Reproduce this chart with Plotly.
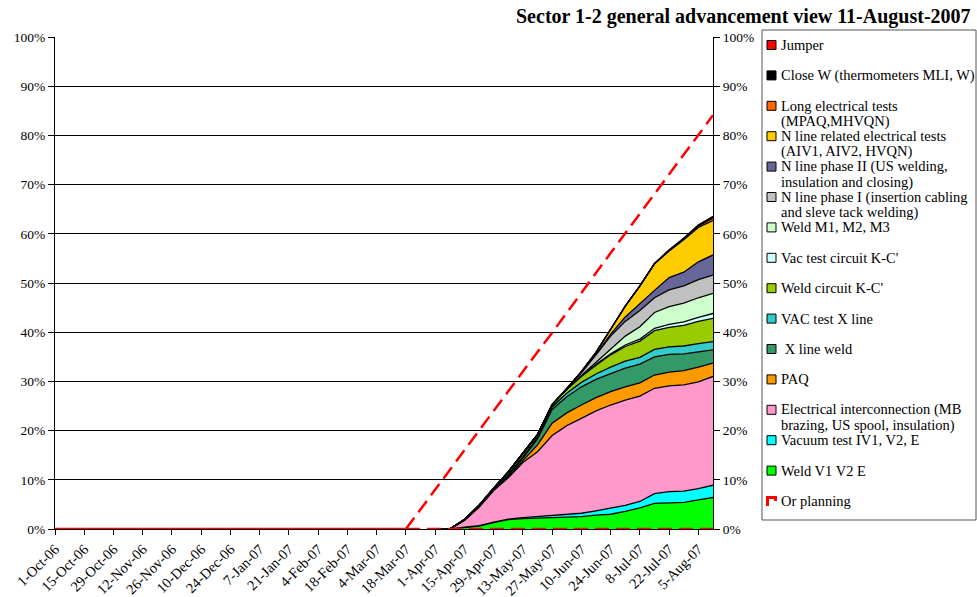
import plotly.graph_objects as go

# ---------------- data ----------------
week_dates = ['2007-04-01', '2007-04-08', '2007-04-15', '2007-04-22', '2007-04-29',
              '2007-05-06', '2007-05-13', '2007-05-20', '2007-05-27', '2007-06-03',
              '2007-06-10', '2007-06-17', '2007-06-24', '2007-07-01', '2007-07-08',
              '2007-07-15', '2007-07-22', '2007-07-29', '2007-08-05', '2007-08-12']

weld_v1v2e = [0, 0, 0.3, 0.6, 1.3, 1.9, 2.1, 2.2, 2.3, 2.4, 2.5, 2.8, 3.0, 3.6, 4.3, 5.2, 5.3, 5.4, 5.9, 6.4]
vacuum_test = [0, 0, 0.1, 0.1, 0.1, 0.1, 0.2, 0.3, 0.4, 0.5, 0.7, 0.9, 1.2, 1.2, 1.3, 2.0, 2.3, 2.3, 2.3, 2.5]
elec_interconnection = [0, 0, 1.4, 3.7, 6.4, 8.4, 11.2, 13.2, 16.3, 18.1, 19.3, 20.3, 21.0, 21.4, 21.4, 21.4, 21.5, 21.6, 21.7, 22.1]
paq = [0, 0, 0, 0.1, 0.1, 0.2, 0.4, 1.4, 2.5, 2.6, 2.7, 2.7, 2.7, 2.7, 2.7, 2.7, 2.8, 2.9, 3.0, 2.7]
x_line_weld = [0, 0, 0, 0.1, 0.1, 0.3, 0.5, 1.2, 2.8, 3.3, 3.7, 3.7, 3.7, 3.8, 3.8, 3.7, 3.6, 3.4, 3.1, 2.7]
vac_test_x_line = [0, 0, 0, 0, 0.1, 0.2, 0.3, 0.3, 0.5, 0.7, 0.9, 1.1, 1.3, 1.4, 1.4, 1.5, 1.5, 1.6, 1.7, 1.7]
weld_circuit_kc = [0, 0, 0.1, 0.2, 0.2, 0.5, 0.7, 0.6, 0.5, 0.8, 1.2, 1.8, 2.5, 3.0, 3.3, 3.8, 4.0, 4.2, 4.5, 4.7]
vac_test_circuit_kc = [0, 0, 0, 0, 0, 0, 0, 0, 0, 0, 0.1, 0.2, 0.2, 0.3, 0.4, 0.5, 0.6, 0.7, 0.8, 1.0]
weld_m123 = [0, 0, 0, 0, 0, 0, 0, 0, 0, 0, 0.1, 0.4, 1.0, 1.8, 2.5, 3.2, 3.6, 3.8, 4.0, 4.1]
n_line_phase1 = [0, 0, 0, 0, 0, 0, 0, 0, 0, 0.1, 0.6, 1.5, 2.6, 3.0, 3.3, 3.0, 3.4, 3.5, 3.7, 3.7]
n_line_phase2 = [0, 0, 0, 0, 0, 0, 0, 0, 0, 0, 0, 0.1, 0.4, 0.9, 1.5, 1.5, 2.5, 2.8, 3.6, 4.1]
n_line_elec = [0, 0, 0, 0, 0, 0, 0, 0, 0, 0, 0.2, 0.4, 1.0, 2.2, 3.5, 5.4, 5.4, 6.6, 7.0, 7.0]
long_elec = [0, 0, 0, 0, 0, 0, 0, 0, 0, 0, 0, 0, 0, 0, 0, 0, 0.1, 0.2, 0.3, 0.5]
close_w = [0, 0, 0, 0, 0, 0, 0, 0, 0, 0, 0, 0, 0, 0, 0, 0.1, 0.1, 0.1, 0.2, 0.3]
jumper = [0, 0, 0, 0, 0, 0, 0, 0, 0, 0, 0, 0, 0, 0, 0, 0, 0, 0, 0, 0]

planning_dates = ['2006-10-01', '2007-03-18', '2007-03-25'] + week_dates
planning = [0, 0, 4.0, 8.0, 12.1, 16.1, 20.1, 24.1, 28.2, 32.2, 36.0, 39.9, 44.0,
            48.0, 52.0, 56.1, 60.1, 64.1, 68.2, 72.2, 76.1, 80.1, 84.1]
baseline_dates = ['2007-03-18', '2007-08-12']
baseline_vals = [0, 0]

tick_dates = ['2006-10-01', '2006-10-15', '2006-10-29', '2006-11-12', '2006-11-26',
              '2006-12-10', '2006-12-24', '2007-01-07', '2007-01-21', '2007-02-04',
              '2007-02-18', '2007-03-04', '2007-03-18', '2007-04-01', '2007-04-15',
              '2007-04-29', '2007-05-13', '2007-05-27', '2007-06-10', '2007-06-24',
              '2007-07-08', '2007-07-22', '2007-08-05']
tick_labels = ['1-Oct-06', '15-Oct-06', '29-Oct-06', '12-Nov-06', '26-Nov-06', '10-Dec-06',
               '24-Dec-06', '7-Jan-07', '21-Jan-07', '4-Feb-07', '18-Feb-07', '4-Mar-07',
               '18-Mar-07', '1-Apr-07', '15-Apr-07', '29-Apr-07', '13-May-07', '27-May-07',
               '10-Jun-07', '24-Jun-07', '8-Jul-07', '22-Jul-07', '5-Aug-07']

# bottom -> top
series_names = ['Weld V1 V2 E', 'Vacuum test IV1, V2, E',
                'Electrical interconnection (MB<br>brazing, US spool, insulation)',
                'PAQ', ' X line weld', 'VAC test X line', "Weld circuit K-C'",
                "Vac test circuit K-C'", 'Weld M1, M2, M3',
                'N line phase I (insertion cabling<br>and sleve tack welding)',
                'N line phase II (US welding,<br>insulation and closing)',
                'N line related electrical tests<br>(AIV1, AIV2, HVQN)',
                'Long electrical tests<br>(MPAQ,MHVQN)',
                'Close W (thermometers MLI, W)', 'Jumper']
series_values = [weld_v1v2e, vacuum_test, elec_interconnection, paq, x_line_weld,
                 vac_test_x_line, weld_circuit_kc, vac_test_circuit_kc, weld_m123,
                 n_line_phase1, n_line_phase2, n_line_elec, long_elec, close_w, jumper]
series_colors = ['#00FF00', '#00FFFF', '#FF99CC', '#FF9900', '#339966', '#33CCCC',
                 '#99CC00', '#CCFFFF', '#CCFFCC', '#C0C0C0', '#666699', '#FFCC00',
                 '#FF6600', '#000000', '#FF0000']
planning_name = 'Or planning'

title_text = 'Sector 1-2 general advancement view 11-August-2007'

# ---------------- layout geometry (page pixels) ----------------
W, H = 977, 597
PL, PR, PT, PB = 55, 713, 37, 529
FONT = 'Liberation Serif'


def px(x):
    return (x - PL) / (PR - PL)


def py(y):
    return (PB - y) / (PB - PT)


fig = go.Figure()

for name, vals, col in zip(series_names, series_values, series_colors):
    fig.add_trace(go.Scatter(x=week_dates, y=vals, stackgroup='work', mode='lines',
                             line=dict(color='black', width=1.3), fillcolor=col,
                             name=name.replace('<br>', ' '), showlegend=False))

dash = '14px,7px'
fig.add_trace(go.Scatter(x=planning_dates[:2], y=planning[:2], mode='lines',
                         line=dict(color='#FF0000', width=2.5), showlegend=False,
                         hoverinfo='skip', yaxis='y2'))
fig.add_trace(go.Scatter(x=baseline_dates, y=baseline_vals, mode='lines',
                         line=dict(color='#FF0000', width=2.5, dash=dash),
                         showlegend=False, hoverinfo='skip', yaxis='y2'))
fig.add_trace(go.Scatter(x=planning_dates[1:], y=planning[1:], mode='lines',
                         line=dict(color='#FF0000', width=2.5, dash=dash),
                         name=planning_name, showlegend=False, yaxis='y2'))

# ---------------- custom legend ----------------
shapes = []
annotations = []
shapes.append(dict(type='rect', xref='paper', yref='paper',
                   x0=px(762), x1=px(976), y0=py(520), y1=py(30),
                   line=dict(color='#555555', width=1), fillcolor='white', layer='below'))

legend_entries = list(zip(series_names, series_colors))[::-1]
y0 = 45.0
step = 30.4
LFS = 14.5
for i, (name, col) in enumerate(legend_entries):
    yc = y0 + i * step
    shapes.append(dict(type='rect', xref='paper', yref='paper',
                       x0=px(767), x1=px(776), y0=py(yc + 4.5), y1=py(yc - 4.5),
                       line=dict(color='black', width=1), fillcolor=col))
    for j, line in enumerate(name.split('<br>')):
        annotations.append(dict(xref='paper', yref='paper', x=px(778.5), y=py(yc + j * 15.5),
                                xanchor='left', yanchor='middle', showarrow=False,
                                text=line, font=dict(family=FONT, size=LFS, color='black')))
yc = y0 + len(legend_entries) * step
shapes.append(dict(type='path', xref='paper', yref='paper',
                   path=f'M {px(767.5)},{py(yc + 5)} L {px(767.5)},{py(yc - 3.5)} '
                        f'L {px(775.5)},{py(yc - 3.5)} L {px(775.5)},{py(yc)}',
                   line=dict(color='#FF0000', width=3)))
annotations.append(dict(xref='paper', yref='paper', x=px(778.5), y=py(yc),
                        xanchor='left', yanchor='middle', showarrow=False,
                        text=planning_name, font=dict(family=FONT, size=LFS, color='black')))

annotations.append(dict(xref='paper', yref='paper', x=px(973), y=py(17),
                        xanchor='right', yanchor='middle', showarrow=False,
                        text='<b>' + title_text + '</b>',
                        font=dict(family=FONT, size=20, color='black')))

axis_font = dict(family=FONT, size=13.5, color='black')
fig.update_layout(
    width=W, height=H,
    margin=dict(l=PL, r=W - PR, t=PT, b=H - PB, autoexpand=False),
    paper_bgcolor='white', plot_bgcolor='white',
    font=dict(family=FONT, size=13, color='black'),
    showlegend=False,
    shapes=shapes, annotations=annotations,
    xaxis=dict(type='date', range=['2006-10-01', '2007-08-12'],
               tickvals=tick_dates, ticktext=tick_labels, tickangle=-45,
               ticks='outside', ticklen=5, tickcolor='black',
               showline=True, linecolor='black', linewidth=1,
               showgrid=False, zeroline=False, automargin=False,
               tickfont=dict(family=FONT, size=14.5, color='black')),
    yaxis=dict(range=[0, 100], dtick=10, ticksuffix='%', ticks='outside', ticklen=6,
               tickcolor='black', showline=True, linecolor='black', linewidth=1,
               showgrid=True, gridcolor='black', gridwidth=1, zeroline=False,
               automargin=False, tickfont=axis_font),
    yaxis2=dict(range=[0, 100], dtick=10, ticksuffix='%', ticks='outside', ticklen=6,
                tickcolor='black', showline=True, linecolor='black', linewidth=1,
                showgrid=False, zeroline=False, overlaying='y', side='right', anchor='x',
                automargin=False, tickfont=axis_font),
)

fig.write_html('out.html',
               config={'displayModeBar': False},
               post_script="document.body.style.margin='0';"
                           "document.body.style.overflow='hidden';")
